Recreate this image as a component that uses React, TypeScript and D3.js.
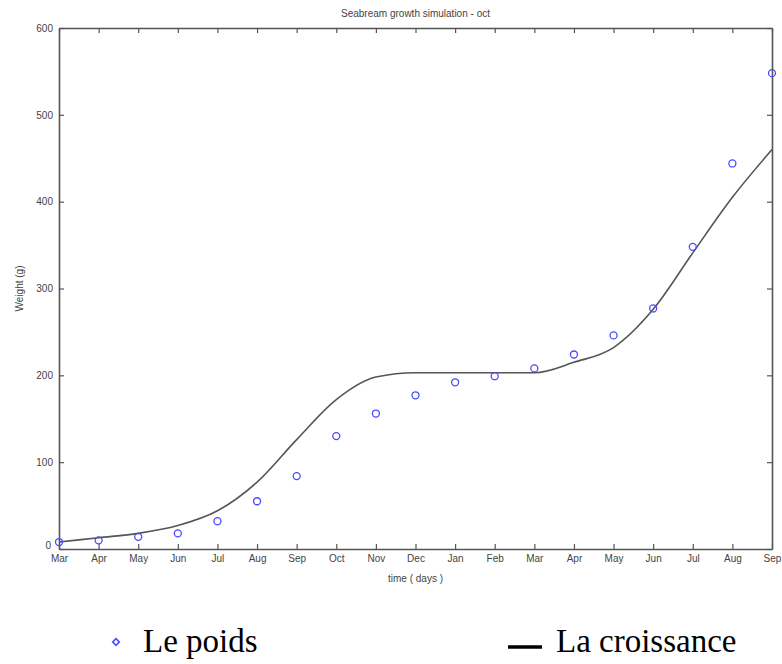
import React, { useRef, useEffect } from 'react';
import * as d3 from 'd3';

// mois affichés sur l'axe des x (mars an 1 -> septembre an 2)
const months = ['Mar', 'Apr', 'May', 'Jun', 'Jul', 'Aug', 'Sep', 'Oct', 'Nov', 'Dec',
  'Jan', 'Feb', 'Mar', 'Apr', 'May', 'Jun', 'Jul', 'Aug', 'Sep'];

// Le poids (points mesurés)
const poids = [8, 10, 14, 18, 32, 55, 84, 130, 156, 177, 192, 199, 208, 224, 246, 277, 348, 444, 548];

// La croissance (courbe simulée)
const croissance = [8, 13, 18, 27, 44, 77, 126, 172, 198, 203, 203, 203, 203, 215, 232, 276, 341, 405, 460];

const yTicks = [0, 100, 200, 300, 400, 500, 600];

export default function App() {
  const svgRef = useRef<SVGSVGElement | null>(null);

  useEffect(() => {
    const svg = d3.select(svgRef.current);
    svg.selectAll('*').remove();

    const width = 782;
    const height = 664;
    const margin = { top: 28, right: 10, bottom: 115, left: 59 };
    const x0 = margin.left, x1 = width - margin.right;
    const y0 = margin.top, y1 = height - margin.bottom;

    const x = d3.scaleLinear().domain([0, months.length - 1]).range([x0, x1]);
    const y = d3.scaleLinear().domain([0, 600]).range([y1, y0]);

    const idx = d3.range(months.length);
    const axisColor = '#555';
    const font = 'Arial, "Liberation Sans", sans-serif';

    // axes façon matlab, ticks vers l'intérieur
    const styleAxis = (g: any) => {
      g.select('.domain').attr('stroke', axisColor).attr('stroke-width', 1.6);
      g.selectAll('.tick line').attr('stroke', axisColor).attr('stroke-width', 1.2);
      g.selectAll('.tick text').attr('fill', '#444').style('font-family', font).style('font-size', '10px');
    };

    svg.append('g')
      .attr('transform', `translate(0,${y1})`)
      .call(d3.axisBottom(x).tickValues(idx).tickSizeInner(-5).tickSizeOuter(0).tickPadding(6)
        .tickFormat((d: any) => months[d]))
      .call(styleAxis);

    svg.append('g')
      .attr('transform', `translate(0,${y0})`)
      .call(d3.axisTop(x).tickValues(idx).tickSizeInner(-5).tickSizeOuter(0).tickFormat(() => ''))
      .call(styleAxis);

    svg.append('g')
      .attr('transform', `translate(${x0},0)`)
      .call(d3.axisLeft(y).tickValues(yTicks).tickSizeInner(-5).tickSizeOuter(0).tickPadding(6))
      .call(styleAxis)
      // le "0" remonte un peu, comme sur l'original, pour ne pas chevaucher "Mar"
      .call(g => g.selectAll('.tick text').filter((d: any) => d === 0)
        .attr('dy', '-0.1em').attr('x', -8));

    svg.append('g')
      .attr('transform', `translate(${x1},0)`)
      .call(d3.axisRight(y).tickValues(yTicks).tickSizeInner(-5).tickSizeOuter(0).tickFormat(() => ''))
      .call(styleAxis);

    // courbe de croissance
    const line = d3.line<number>()
      .x((_, i) => x(i))
      .y(d => y(d))
      .curve(d3.curveMonotoneX);

    svg.append('path')
      .datum(croissance)
      .attr('d', line)
      .attr('fill', 'none')
      .attr('stroke', '#555')
      .attr('stroke-width', 1.6);

    // points du poids
    svg.append('g')
      .selectAll('circle')
      .data(poids)
      .join('circle')
      .attr('cx', (_, i) => x(i))
      .attr('cy', d => y(d))
      .attr('r', 3.5)
      .attr('fill', 'none')
      .attr('stroke', '#4a4aff')
      .attr('stroke-width', 1.3);

    // titres
    svg.append('text')
      .attr('x', (x0 + x1) / 2).attr('y', 17)
      .attr('text-anchor', 'middle')
      .style('font-family', font).style('font-size', '10px').attr('fill', '#444')
      .text('Seabream growth simulation - oct');

    svg.append('text')
      .attr('x', (x0 + x1) / 2).attr('y', 582)
      .attr('text-anchor', 'middle')
      .style('font-family', font).style('font-size', '10px').attr('fill', '#444')
      .text('time ( days )');

    svg.append('text')
      .attr('transform', `translate(23,${(y0 + y1) / 2}) rotate(-90)`)
      .attr('text-anchor', 'middle')
      .style('font-family', font).style('font-size', '10px').attr('fill', '#444')
      .text('Weight (g)');

    // légende
    const serif = '"Liberation Serif", "Times New Roman", serif';
    svg.append('path')
      .attr('d', d3.symbol(d3.symbolSquare, 22)())
      .attr('transform', 'translate(116,642) rotate(45)')
      .attr('fill', 'none')
      .attr('stroke', '#4a4aff')
      .attr('stroke-width', 1.6);
    svg.append('text')
      .attr('x', 143).attr('y', 652)
      .style('font-family', serif).style('font-size', '33px').attr('fill', '#000')
      .text('Le poids');

    svg.append('line')
      .attr('x1', 508).attr('x2', 542).attr('y1', 647).attr('y2', 647)
      .attr('stroke', '#000').attr('stroke-width', 3.5);
    svg.append('text')
      .attr('x', 556).attr('y', 652)
      .style('font-family', serif).style('font-size', '33px').attr('fill', '#000')
      .text('La croissance');
  }, []);

  return (
    <svg ref={svgRef} width={782} height={664}
      style={{ position: 'absolute', left: 0, top: 0, background: '#fff' }} />
  );
}
